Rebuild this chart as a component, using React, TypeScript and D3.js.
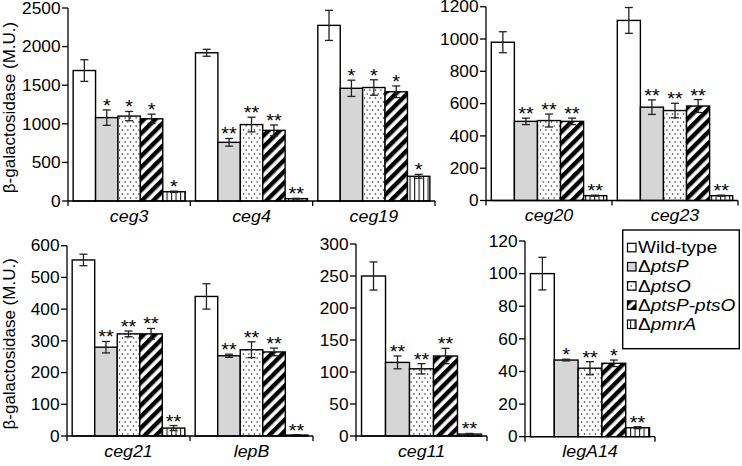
import React, { useEffect, useRef } from 'react'
import * as d3 from 'd3'

// strains, in bar order
const strains = ['Wild-type', 'ΔptsP', 'ΔptsO', 'ΔptsP-ptsO', 'ΔpmrA']
const genes = ['ceg3', 'ceg4', 'ceg19', 'ceg20', 'ceg23', 'ceg21', 'lepB', 'ceg11', 'legA14']

// mean beta-galactosidase activity (M.U.), one row per gene, strain order as above
const meanValues = [
  [1690, 1080, 1100, 1065, 120],
  [1920, 760, 990, 915, 30],
  [2275, 1460, 1470, 1415, 320],
  [980, 490, 495, 490, 30],
  [1115, 578, 557, 585, 30],
  [555, 280, 322, 322, 25],
  [440, 253, 272, 265, 3],
  [250, 115, 105, 125, 3],
  [100, 47, 42, 45, 5.5]
]
const errValues = [
  [140, 100, 60, 60, 8],
  [45, 50, 95, 70, 5],
  [195, 105, 100, 75, 25],
  [65, 20, 40, 20, 3],
  [80, 45, 45, 40, 3],
  [18, 18, 9, 17, 8],
  [40, 5, 25, 12, 1],
  [22, 10, 8, 12, 1],
  [10, 0.5, 4, 2, 0.6]
]
const sigMarks = [
  ['', '*', '*', '*', '*'],
  ['', '**', '**', '**', '**'],
  ['', '*', '*', '*', '*'],
  ['', '**', '**', '**', '**'],
  ['', '**', '**', '**', '**'],
  ['', '**', '**', '**', '**'],
  ['', '**', '**', '**', '**'],
  ['', '**', '**', '**', '**'],
  ['', '*', '**', '*', '**']
]

const panels = [
  { genes: ['ceg3', 'ceg4', 'ceg19'], x0: 68, x1: 435, top: 8, bottom: 201, max: 2500, step: 500, title: true },
  { genes: ['ceg20', 'ceg23'], x0: 486, x1: 738, top: 6.7, bottom: 200.5, max: 1200, step: 200 },
  { genes: ['ceg21', 'lepB'], x0: 67, x1: 313, top: 245.7, bottom: 436, max: 600, step: 100, title: true },
  { genes: ['ceg11'], x0: 356, x1: 487, top: 244, bottom: 436, max: 300, step: 50 },
  { genes: ['legA14'], x0: 525, x1: 655, top: 241, bottom: 436.7, max: 120, step: 20 }
]

const FONT = 'Arial, "Liberation Sans", Helvetica, sans-serif'
const SX = 1.08
const fills = ['#ffffff', '#d6d6d6', 'url(#dots)', 'url(#stripes)', 'url(#vlines)']

function App () {
  const ref = useRef(null)

  useEffect(() => {
    const svg = d3.select(ref.current)
    svg.selectAll('*').remove()

    const defs = svg.append('defs')
    const dots = defs.append('pattern').attr('id', 'dots')
      .attr('patternUnits', 'userSpaceOnUse').attr('width', 5.5).attr('height', 8)
    dots.append('rect').attr('width', 5.5).attr('height', 8).attr('fill', '#fff')
    dots.append('circle').attr('cx', 1.4).attr('cy', 2).attr('r', 0.7).attr('fill', '#000')
    dots.append('circle').attr('cx', 4.15).attr('cy', 6).attr('r', 0.7).attr('fill', '#000')

    const stripes = defs.append('pattern').attr('id', 'stripes')
      .attr('patternUnits', 'userSpaceOnUse').attr('width', 8).attr('height', 8)
      .attr('patternTransform', 'rotate(45)')
    stripes.append('rect').attr('width', 8).attr('height', 8).attr('fill', '#fff')
    stripes.append('rect').attr('width', 4.4).attr('height', 8).attr('fill', '#000')

    const vlines = defs.append('pattern').attr('id', 'vlines')
      .attr('patternUnits', 'userSpaceOnUse').attr('width', 4.5).attr('height', 10)
    vlines.append('rect').attr('width', 4.5).attr('height', 10).attr('fill', '#fff')
    vlines.append('line').attr('x1', 0.6).attr('x2', 0.6).attr('y1', 0).attr('y2', 10)
      .attr('stroke', '#000').attr('stroke-width', 1)

    panels.forEach(p => {
      const g = svg.append('g')
      const y = d3.scaleLinear().domain([0, p.max]).range([p.bottom, p.top])
      const gx = d3.scaleBand().domain(p.genes).range([p.x0, p.x1]).padding(0)
      const bx = d3.scaleBand().domain(d3.range(strains.length))
        .range([0, gx.bandwidth()]).paddingInner(0).paddingOuter(0.23)

      p.genes.forEach(gene => {
        const gi = genes.indexOf(gene)
        const rows = strains.map((s, i) => ({
          i,
          v: meanValues[gi][i],
          e: errValues[gi][i],
          sig: sigMarks[gi][i],
          x: gx(gene) + bx(i)
        }))

        g.selectAll(null).data(rows).enter().append('rect')
          .attr('x', d => d.x)
          .attr('y', d => y(d.v))
          .attr('width', bx.bandwidth())
          .attr('height', d => p.bottom - y(d.v))
          .attr('fill', d => fills[d.i])
          .attr('stroke', '#000')
          .attr('stroke-width', 1.4)

        const eb = g.selectAll(null).data(rows).enter().append('g')
          .attr('stroke', '#222').attr('stroke-width', 1.3)
        eb.append('line')
          .attr('x1', d => d.x + bx.bandwidth() / 2).attr('x2', d => d.x + bx.bandwidth() / 2)
          .attr('y1', d => y(d.v + d.e)).attr('y2', d => y(d.v - d.e))
        eb.append('line')
          .attr('x1', d => d.x + bx.bandwidth() / 2 - 4).attr('x2', d => d.x + bx.bandwidth() / 2 + 4)
          .attr('y1', d => y(d.v + d.e)).attr('y2', d => y(d.v + d.e))
        eb.append('line')
          .attr('x1', d => d.x + bx.bandwidth() / 2 - 4).attr('x2', d => d.x + bx.bandwidth() / 2 + 4)
          .attr('y1', d => y(d.v - d.e)).attr('y2', d => y(d.v - d.e))

        g.selectAll(null).data(rows.filter(d => d.sig)).enter().append('text')
          .attr('transform', d => `translate(${d.x + bx.bandwidth() / 2},${y(d.v + d.e) + 2}) scale(1.05,1)`)
          .attr('text-anchor', 'middle')
          .attr('font-family', FONT)
          .attr('font-size', 19)
          .text(d => d.sig)

        g.append('text')
          .attr('transform', `translate(${gx(gene) + gx.bandwidth() / 2},${p.bottom + 20.5}) scale(${SX},1)`)
          .attr('text-anchor', 'middle')
          .attr('font-family', FONT)
          .attr('font-style', 'italic')
          .attr('font-size', 16.5)
          .text(gene)
      })

      // axes
      const ax = g.append('g').attr('stroke', '#000').attr('stroke-width', 1.3)
      ax.append('line').attr('x1', p.x0).attr('x2', p.x0).attr('y1', p.top).attr('y2', p.bottom)
      ax.append('line').attr('x1', p.x0).attr('x2', p.x1).attr('y1', p.bottom).attr('y2', p.bottom)
      const ticks = d3.range(0, p.max + 1, p.step)
      ax.selectAll(null).data(ticks).enter().append('line')
        .attr('x1', p.x0 - 6).attr('x2', p.x0).attr('y1', d => y(d)).attr('y2', d => y(d))
      const bounds = [p.x0, ...p.genes.map(d => gx(d) + gx.bandwidth())]
      ax.selectAll(null).data(bounds).enter().append('line')
        .attr('x1', d => d).attr('x2', d => d).attr('y1', p.bottom).attr('y2', p.bottom + 5)

      g.selectAll(null).data(ticks).enter().append('text')
        .attr('transform', d => `translate(${p.x0 - 7.5},${y(d) + 5.7}) scale(${SX},1)`)
        .attr('text-anchor', 'end')
        .attr('font-family', FONT)
        .attr('font-size', 16)
        .text(d => d)

      if (p.title) {
        g.append('text')
          .attr('transform', `translate(15,${(p.top + p.bottom) / 2 + 3}) rotate(-90)`)
          .attr('text-anchor', 'middle')
          .attr('font-family', FONT)
          .attr('font-size', 17)
          .text('β-galactosidase (M.U.)')
      }
    })

    // legend
    const lg = svg.append('g')
    lg.append('rect').attr('x', 622.7).attr('y', 230).attr('width', 116.6).attr('height', 118.7)
      .attr('fill', '#fff').attr('stroke', '#000').attr('stroke-width', 1.4)
    const rowsY = d3.scaleLinear().domain([0, 4]).range([253.3, 330])
    strains.forEach((s, i) => {
      lg.append('rect').attr('x', 627.5).attr('y', rowsY(i) - 10).attr('width', 8.5).attr('height', 8.5)
        .attr('fill', fills[i]).attr('stroke', '#000').attr('stroke-width', 1.2)
      const t = lg.append('text')
        .attr('transform', `translate(638,${rowsY(i)}) scale(1.12,1)`)
        .attr('font-family', FONT)
        .attr('font-size', 17)
      if (i === 0) {
        t.text(s)
      } else {
        t.append('tspan').text('Δ')
        t.append('tspan').attr('font-style', 'italic').text(s.slice(1))
      }
    })
  }, [])

  return (
    <svg ref={ref} width={742} height={466} viewBox='0 0 742 466'
      style={{ position: 'absolute', left: 0, top: 0, background: '#fff' }} />
  )
}

export default App
